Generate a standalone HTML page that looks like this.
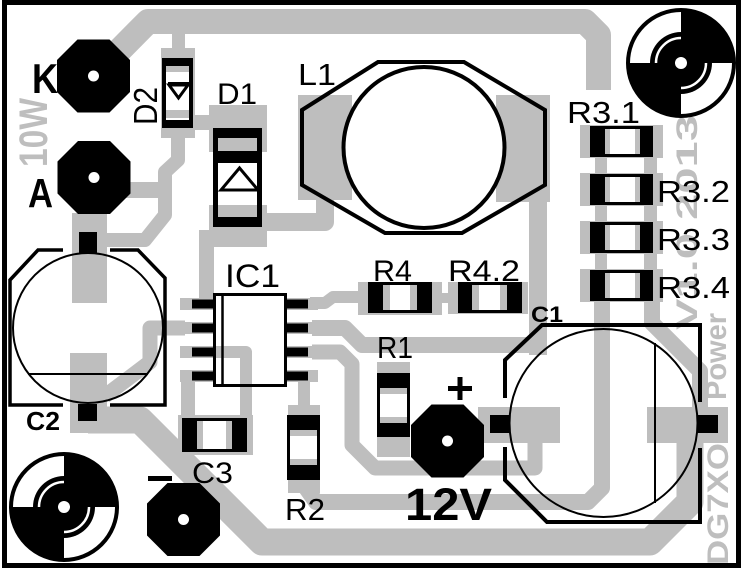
<!DOCTYPE html>
<html><head><meta charset="utf-8"><style>
html,body{margin:0;padding:0;background:#fff;}
svg{display:block;}
text{font-family:"Liberation Sans",sans-serif;}
</style></head><body>
<svg width="746" height="572" viewBox="0 0 746 572" xmlns="http://www.w3.org/2000/svg">
<rect width="746" height="572" fill="#fff"/>

<!-- gray copper pads -->
<g fill="#bebebe">
 <rect x="161" y="48" width="34" height="90"/>
 <rect x="190" y="115" width="22" height="15"/>
 <rect x="209" y="105" width="58" height="47"/>
 <rect x="209" y="205" width="58" height="42"/>
 <rect x="199" y="230" width="40" height="17"/>
 <rect x="199" y="230" width="15" height="78"/>
 <rect x="298" y="95" width="54" height="105"/>
 <rect x="496" y="95" width="54" height="107"/>
 <rect x="529" y="195" width="18" height="160"/>
 <rect x="72" y="213" width="35" height="90"/>
 <rect x="70" y="353" width="37" height="80"/>
 <rect x="125" y="182" width="45" height="16"/>
 <rect x="180" y="298" width="33" height="12"/>
 <rect x="180" y="322" width="33" height="12"/>
 <rect x="180" y="346" width="33" height="12"/>
 <rect x="180" y="370" width="33" height="12"/>
 <rect x="287" y="298" width="31" height="12"/>
 <rect x="287" y="322" width="31" height="12"/>
 <rect x="287" y="346" width="31" height="12"/>
 <rect x="287" y="370" width="31" height="12"/>
 <rect x="178" y="415" width="75" height="40"/>
 <rect x="288" y="405" width="32" height="15"/>
 <rect x="288" y="470" width="32" height="23"/>
 <rect x="377" y="362" width="33" height="14"/>
 <rect x="377" y="432" width="33" height="25"/>
 <rect x="358" y="282" width="84" height="33"/>
 <rect x="448" y="282" width="80" height="32"/>
 <rect x="440" y="293" width="10" height="10"/>
 <rect x="580" y="125" width="83" height="33"/>
 <rect x="580" y="173" width="83" height="33"/>
 <rect x="580" y="221" width="83" height="33"/>
 <rect x="580" y="269" width="83" height="33"/>
 <rect x="595" y="126" width="12" height="176"/>
 <rect x="644" y="126" width="13" height="176"/>
 <rect x="478" y="407" width="82" height="36"/>
 <rect x="647" y="407" width="81" height="36"/>
</g>

<!-- gray traces -->
<g fill="none" stroke="#bebebe" stroke-linejoin="round">
 <path d="M95,75 L148,21.5 L585,21.5 L598.5,35 L598.5,90" stroke-width="25"/>
 <path d="M178.5,21 L178.5,50" stroke-width="13"/>
 <path d="M178,130 L178,160 L165,172 L165,215 L145,240 L100,240" stroke-width="14"/>
 <path d="M262,222 L325,222 L325,195" stroke-width="18"/>
 <path d="M185,328 L150,328 L150,362 L105,396" stroke-width="15"/>
 <path d="M185,352 L246,352 L246,420" stroke-width="12"/>
 <path d="M188,376 L188,420" stroke-width="14"/>
 <path d="M312,376 L304,376 L304,410" stroke-width="12"/>
 <path d="M312,352 L340,352 L352,364 L352,445 L375,468 L535,468 L535,440" stroke-width="15"/>
 <path d="M312,328 L345,328 L362,345 L538,345 L538,200" stroke-width="16"/>
 <path d="M310,303 L325,303 L333,297 L365,297" stroke-width="12"/>
 <path d="M304,485 L316,502 L588,502 L602,488 L602,300" stroke-width="16"/>
 <path d="M652,300 L652,323 L700,371 L700,420" stroke-width="16"/>
 <path d="M88,420 L140,420 L262,542 L650,542 L690,502 L690,430" stroke-width="27"/>
</g>

<!-- gray text -->
<g fill="#bebebe" font-weight="bold">
 <text transform="translate(47,167) rotate(-90)" font-size="40" textLength="69" lengthAdjust="spacingAndGlyphs">10W</text>
 <text transform="translate(728,565) rotate(-90)" font-size="30" textLength="122" lengthAdjust="spacingAndGlyphs">DG7XO</text>
 <text transform="translate(726,400) rotate(-90)" font-size="30" textLength="87" lengthAdjust="spacingAndGlyphs">Power</text>
 <text transform="translate(697,330) rotate(-90)" font-size="30" textLength="215" lengthAdjust="spacingAndGlyphs">V1.0 2013</text>
</g>

<!-- pads (black octagons) -->
<g fill="#000">
 <polygon points="77.5,39.5 109.5,39.5 130,60 130,92 109.5,112.5 77.5,112.5 57,92 57,60"/>
 <polygon points="78,141 110,141 130.5,161.5 130.5,193.5 110,214 78,214 57.5,193.5 57.5,161.5"/>
 <polygon points="431.5,404.5 463.5,404.5 484,425 484,457 463.5,477.5 431.5,477.5 411,457 411,425"/>
 <polygon points="167.5,483 199.5,483 220,503.5 220,535.5 199.5,556 167.5,556 147,535.5 147,503.5"/>
</g>
<g fill="#fff">
 <circle cx="93.5" cy="76" r="5.5"/>
 <circle cx="94" cy="177.5" r="5.5"/>
 <circle cx="447.5" cy="441" r="5.5"/>
 <circle cx="183.5" cy="519.5" r="5.5"/>
</g>

<!-- D2 -->
<rect x="162" y="58" width="31" height="70" fill="#000"/>
<rect x="166" y="66" width="23" height="54" fill="#fff"/>
<rect x="166" y="66" width="23" height="6" fill="#bebebe"/>
<rect x="166" y="110" width="23" height="8" fill="#bebebe"/>
<polygon points="169,85 188,85 178.5,98" fill="none" stroke="#000" stroke-width="3"/>
<line x1="168" y1="84" x2="189" y2="84" stroke="#000" stroke-width="4"/>

<!-- D1 -->
<rect x="213" y="128" width="49" height="99" fill="#000"/>
<rect x="218" y="138" width="39" height="13" fill="#bebebe"/>
<rect x="218" y="163" width="39" height="54" fill="#fff"/>
<rect x="218" y="205" width="39" height="12" fill="#bebebe"/>
<polygon points="239.5,168 221,190 258,190" fill="none" stroke="#000" stroke-width="3" stroke-linejoin="miter"/>

<!-- L1 -->
<polygon points="302,110 378,62 464,62 545,110 545,185 462,233 385,233 302,185" fill="none" stroke="#000" stroke-width="4"/>
<circle cx="424" cy="147.5" r="80.5" fill="#fff" stroke="#000" stroke-width="4"/>

<!-- IC1 -->
<g fill="#000">
 <rect x="192" y="299.5" width="21" height="9"/>
 <rect x="192" y="323.5" width="21" height="9"/>
 <rect x="192" y="347.5" width="21" height="9"/>
 <rect x="192" y="371.5" width="21" height="9"/>
 <rect x="287" y="299.5" width="21" height="9"/>
 <rect x="287" y="323.5" width="21" height="9"/>
 <rect x="287" y="347.5" width="21" height="9"/>
 <rect x="287" y="371.5" width="21" height="9"/>
</g>
<rect x="214.5" y="294.5" width="71" height="91" fill="none" stroke="#000" stroke-width="3"/>
<line x1="222.5" y1="294" x2="222.5" y2="386" stroke="#000" stroke-width="2.5"/>

<!-- horizontal resistors -->
<g>
 <rect x="590" y="126" width="63" height="31" fill="#000"/>
 <rect x="605" y="129" width="35" height="25" fill="#fff"/>
 <rect x="605" y="129" width="5" height="25" fill="#bebebe"/><rect x="635" y="129" width="5" height="25" fill="#bebebe"/>
 <rect x="590" y="174" width="63" height="31" fill="#000"/>
 <rect x="605" y="177" width="35" height="25" fill="#fff"/>
 <rect x="605" y="177" width="5" height="25" fill="#bebebe"/><rect x="635" y="177" width="5" height="25" fill="#bebebe"/>
 <rect x="590" y="222" width="63" height="31" fill="#000"/>
 <rect x="605" y="225" width="35" height="25" fill="#fff"/>
 <rect x="605" y="225" width="5" height="25" fill="#bebebe"/><rect x="635" y="225" width="5" height="25" fill="#bebebe"/>
 <rect x="590" y="270" width="63" height="31" fill="#000"/>
 <rect x="605" y="273" width="35" height="25" fill="#fff"/>
 <rect x="605" y="273" width="5" height="25" fill="#bebebe"/><rect x="635" y="273" width="5" height="25" fill="#bebebe"/>

 <rect x="368" y="282" width="64" height="31" fill="#000"/>
 <rect x="383" y="285" width="34" height="25" fill="#fff"/>
 <rect x="383" y="285" width="7" height="25" fill="#bebebe"/><rect x="410" y="285" width="7" height="25" fill="#bebebe"/>
 <rect x="458" y="282" width="64" height="31" fill="#000"/>
 <rect x="472" y="285" width="35" height="25" fill="#fff"/>
 <rect x="472" y="285" width="7" height="25" fill="#bebebe"/><rect x="500" y="285" width="7" height="25" fill="#bebebe"/>

 <rect x="182" y="418" width="65" height="34" fill="#000"/>
 <rect x="197" y="421" width="35" height="28" fill="#fff"/>
 <rect x="197" y="421" width="6" height="28" fill="#bebebe"/><rect x="226" y="421" width="6" height="28" fill="#bebebe"/>
</g>

<!-- vertical resistors -->
<g>
 <rect x="377" y="373" width="33" height="64" fill="#000"/>
 <rect x="380" y="388" width="27" height="35" fill="#fff"/>
 <rect x="380" y="388" width="27" height="6" fill="#bebebe"/><rect x="380" y="417" width="27" height="6" fill="#bebebe"/>
 <rect x="287" y="415" width="33" height="65" fill="#000"/>
 <rect x="290" y="430" width="27" height="35" fill="#fff"/>
 <rect x="290" y="430" width="27" height="6" fill="#bebebe"/><rect x="290" y="459" width="27" height="6" fill="#bebebe"/>
</g>

<!-- C2 -->
<circle cx="88" cy="328" r="75" fill="none" stroke="#000" stroke-width="2"/>
<line x1="28" y1="374" x2="148" y2="374" stroke="#000" stroke-width="2"/>
<path d="M63,250 L38,250 L10,280 L10,405 L63,405 M110,250 L138,250 L165,278 L165,405 L110,405" fill="none" stroke="#000" stroke-width="3.5"/>
<rect x="79" y="232" width="18" height="21" fill="#000"/>
<rect x="78" y="404" width="19" height="17" fill="#000"/>

<!-- C1 -->
<circle cx="603.5" cy="423" r="94" fill="none" stroke="#000" stroke-width="2"/>
<line x1="655" y1="343" x2="655" y2="503" stroke="#000" stroke-width="2"/>
<path d="M505,398 L505,360 L542,325 L700,325 L700,402 M505,447 L505,480 L547,522 L700,522 L700,448" fill="none" stroke="#000" stroke-width="4"/>
<rect x="490" y="415" width="20" height="18" fill="#000"/>
<rect x="698" y="415" width="20" height="18" fill="#000"/>

<!-- targets -->
<g>
 <circle cx="681" cy="63" r="53" fill="#fff" stroke="#000" stroke-width="4"/>
 <path d="M681,63 L681,10 A53,53 0 0 1 734,63 Z" fill="#000"/>
 <path d="M681,63 L628,63 A53,53 0 0 0 681,116 Z" fill="#000"/>
 <circle cx="681" cy="63" r="31" fill="#000"/>
 <path d="M656,63 A25,25 0 0 1 681,38 M706,63 A25,25 0 0 1 681,88" fill="none" stroke="#fff" stroke-width="2.5"/>
 <circle cx="681" cy="63" r="6" fill="#fff"/>

 <circle cx="64" cy="507" r="53" fill="#fff" stroke="#000" stroke-width="4"/>
 <path d="M64,507 L64,454 A53,53 0 0 1 117,507 Z" fill="#000"/>
 <path d="M64,507 L11,507 A53,53 0 0 0 64,560 Z" fill="#000"/>
 <circle cx="64" cy="507" r="31" fill="#000"/>
 <path d="M39,507 A25,25 0 0 1 64,482 M89,507 A25,25 0 0 1 64,532" fill="none" stroke="#fff" stroke-width="2.5"/>
 <circle cx="64" cy="507" r="6" fill="#fff"/>
</g>

<!-- + and - -->
<rect x="448" y="386" width="24" height="5" fill="#000"/>
<rect x="457.5" y="377" width="5" height="23" fill="#000"/>
<rect x="148" y="476" width="24" height="5" fill="#000"/>

<!-- black labels -->
<g fill="#000">
 <text x="298" y="85" font-size="31" textLength="38" lengthAdjust="spacingAndGlyphs">L1</text>
 <text x="217" y="104" font-size="30" textLength="40" lengthAdjust="spacingAndGlyphs">D1</text>
 <text transform="translate(157,125) rotate(-90)" font-size="33" textLength="38" lengthAdjust="spacingAndGlyphs">D2</text>
 <text x="32" y="93" font-size="42" font-weight="bold" textLength="26" lengthAdjust="spacingAndGlyphs">K</text>
 <text x="28" y="207" font-size="41" font-weight="bold" textLength="25" lengthAdjust="spacingAndGlyphs">A</text>
 <text x="567" y="123" font-size="31" textLength="73" lengthAdjust="spacingAndGlyphs">R3.1</text>
 <text x="657" y="202" font-size="31" textLength="73" lengthAdjust="spacingAndGlyphs">R3.2</text>
 <text x="657" y="250" font-size="31" textLength="73" lengthAdjust="spacingAndGlyphs">R3.3</text>
 <text x="657" y="298" font-size="31" textLength="73" lengthAdjust="spacingAndGlyphs">R3.4</text>
 <text x="373" y="281" font-size="30" textLength="39" lengthAdjust="spacingAndGlyphs">R4</text>
 <text x="448" y="281" font-size="30" textLength="72" lengthAdjust="spacingAndGlyphs">R4.2</text>
 <text x="225" y="287" font-size="32" textLength="55" lengthAdjust="spacingAndGlyphs">IC1</text>
 <text x="377" y="358" font-size="31" textLength="36" lengthAdjust="spacingAndGlyphs">R1</text>
 <text x="285" y="520" font-size="31" textLength="40" lengthAdjust="spacingAndGlyphs">R2</text>
 <text x="192" y="483" font-size="30" textLength="41" lengthAdjust="spacingAndGlyphs">C3</text>
 <text x="26" y="430" font-size="26" font-weight="bold" textLength="34" lengthAdjust="spacingAndGlyphs">C2</text>
 <text x="531" y="322" font-size="22" font-weight="bold" textLength="32" lengthAdjust="spacingAndGlyphs">C1</text>
 <text x="405" y="520" font-size="45" font-weight="bold" textLength="87" lengthAdjust="spacingAndGlyphs">12V</text>
</g>

<!-- board border -->
<rect x="4.5" y="2.5" width="734" height="563" fill="none" stroke="#000" stroke-width="5"/>
</svg>
</body></html>
